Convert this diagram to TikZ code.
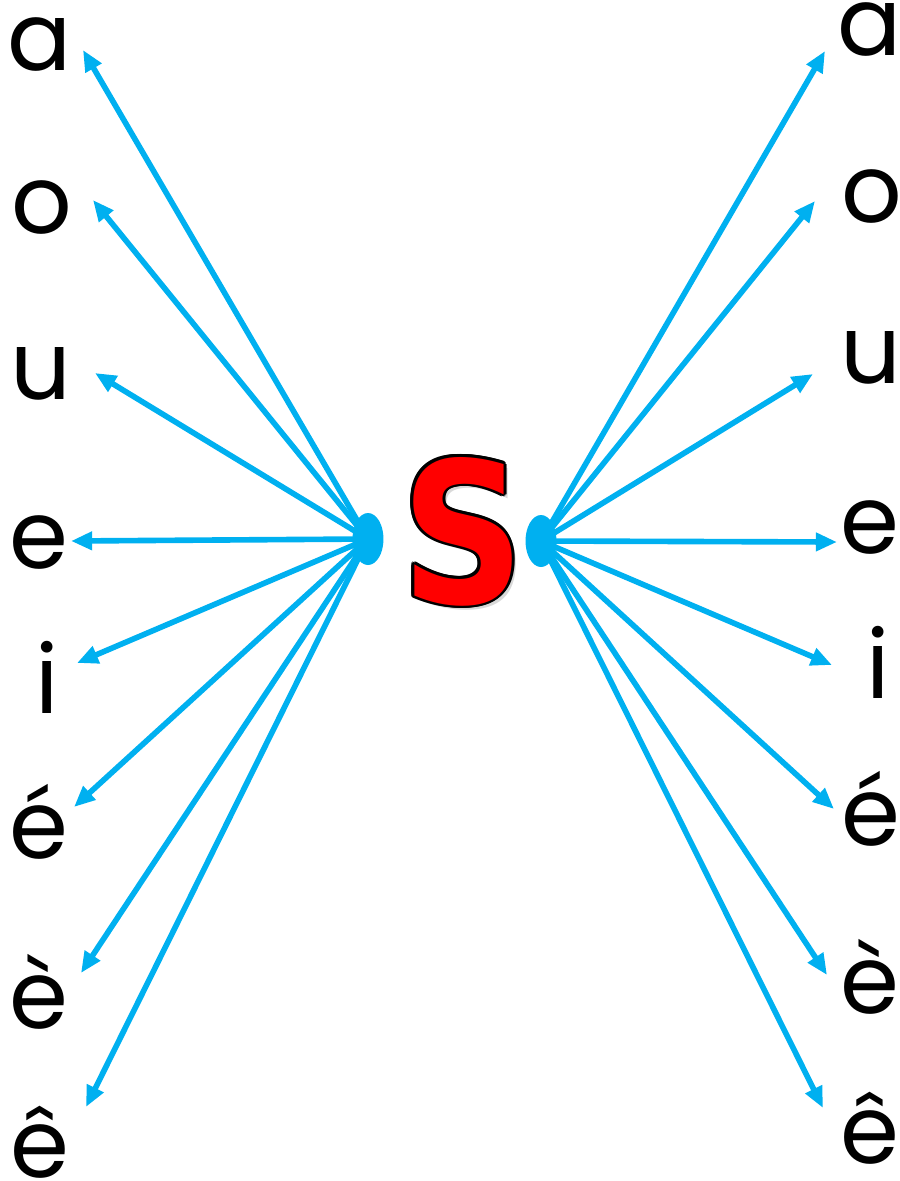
\documentclass[tikz,border=0pt]{standalone}
\usepackage{fontspec}
\setmainfont{Poppins}
\newfontfamily\heavy{DejaVu Sans}
\usetikzlibrary{arrows.meta, shapes.geometric, backgrounds, calc}
\definecolor{sky}{HTML}{00B0F0}
\definecolor{sred}{HTML}{FF0000}
\tikzset{
  vow/.style={anchor=base, inner sep=0pt, font=\fontsize{54}{60}\selectfont},
  dot/.style={ellipse, fill=sky, inner sep=0pt, minimum width=0.62cm, minimum height=1.04cm},
  arr/.style={-{Triangle[length=12pt, width=10pt]}, line width=3.2pt, draw=sky},
  bigS/.style={anchor=base, inner sep=0pt, font=\heavy\bfseries\fontsize{112}{112}\selectfont},
}
\newcommand{\sglyph}{\scalebox{0.87}[1]{S}}

\begin{document}
\begin{tikzpicture}[x=0.02cm, y=-0.02cm]
\useasboundingbox (0,0) rectangle (900,1181);

% vowels on both sides
\foreach \i/\t/\x/\y in {1/a/40/70, 2/o/42/233, 3/u/41/399, 4/e/39/568,
                         5/i/47/713, 6/é/39/858, 7/è/39/1028, 8/ê/40/1177}
  \node[vow] (l\i) at (\x,\y) {\t};
\foreach \i/\t/\x/\y in {1/a/870/55, 2/o/872/222, 3/u/871/383, 4/e/870/553,
                         5/i/878/698, 6/é/871/845, 7/è/870/1013, 8/ê/870/1163}
  \node[vow] (r\i) at (\x,\y) {\t};

% arrow tips
\foreach \i/\x/\y in {1/83/50, 2/93/200, 3/95/373, 4/71/541,
                      5/77/663, 6/74/807, 7/81/973, 8/86/1107}
  \coordinate (lt\i) at (\x,\y);
\foreach \i/\x/\y in {1/825/51, 2/815/201, 3/813/374, 4/837/542,
                      5/832/665, 6/834/809, 7/827/975, 8/823/1108}
  \coordinate (rt\i) at (\x,\y);

\node[dot] (ldot) at (368,539) {};
\node[dot] (rdot) at (541,541) {};

\begin{scope}[on background layer]
  \foreach \i in {1,...,8} {
    \draw[arr] (ldot.center) -- (lt\i);
    \draw[arr] (rdot.center) -- (rt\i);
  }
\end{scope}

% the S: shadow, black rim, red face
\node[bigS, text=gray!30] (sshade) at (467,607) {\sglyph};
\foreach \a in {0,30,...,330}
  \node[bigS, text=black] (srim\a) at ($(463,603)+(\a:1.6pt)$) {\sglyph};
\node[bigS, text=sred] (s) at (463,603) {\sglyph};

\end{tikzpicture}
\end{document}
